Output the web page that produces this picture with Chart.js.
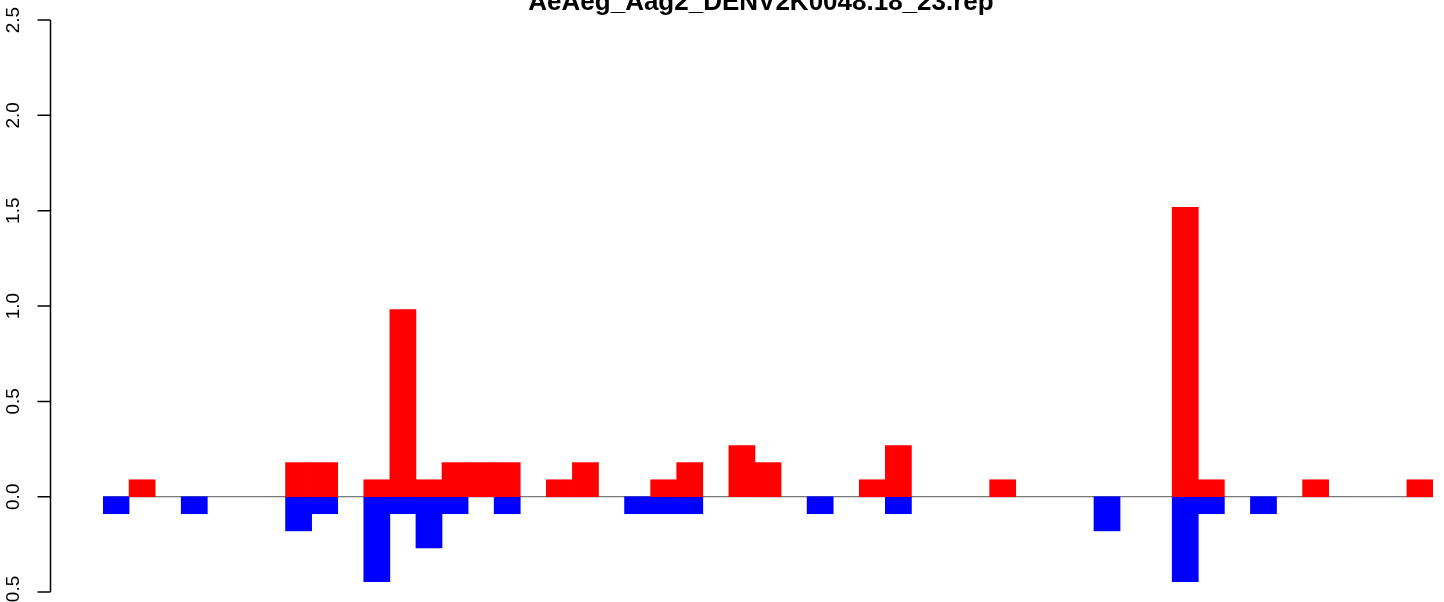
<!DOCTYPE html>
<html lang="en">

<head>
    <meta charset="UTF-8">
    <title>AeAeg_Aag2_DENV2K0048.18_23.rep</title>
    <script src="https://cdn.jsdelivr.net/npm/chart.js"></script>
    <style>
        html, body { margin: 0; padding: 0; background: #fff; }
        #wrap { width: 1444px; height: 602px; }
    </style>
</head>

<body>
    <div id="wrap">
        <canvas id="myChart" width="1444" height="602"></canvas>
    </div>

    <script>
        var chartTitle = 'AeAeg_Aag2_DENV2K0048.18_23.rep';

        // 51 bins (null = empty bin)
        var bins = [];
        for (var i = 1; i <= 51; i++) { bins.push(String(i)); }

        var plusValues = [
            null, 0.089, null, null, null, null, null, 0.179, 0.179, null,
            0.089, 0.982, 0.089, 0.179, 0.179, 0.179, null, 0.089, 0.179, null,
            null, 0.089, 0.179, null, 0.268, 0.179, null, null, null, 0.089,
            0.268, null, null, null, 0.089, null, null, null, null, null,
            null, 1.518, 0.089, null, null, null, 0.089, null, null, null,
            0.089
        ];
        var minusValues = [
            -0.089, null, null, -0.089, null, null, null, -0.179, -0.089, null,
            -0.446, -0.089, -0.268, -0.089, null, -0.089, null, null, null, null,
            -0.089, -0.089, -0.089, null, null, null, null, -0.089, null, null,
            -0.089, null, null, null, null, null, null, null, -0.179, null,
            null, -0.446, -0.089, null, -0.089, null, null, null, null, null,
            null
        ];
        var yTicks = [2.5, 2.0, 1.5, 1.0, 0.5, 0.0, -0.5];

        // R style axis, title and zero line
        var rAxis = {
            id: 'rAxis',
            beforeDatasetsDraw: function (chart) {
                var ctx = chart.ctx;
                var area = chart.chartArea;
                var y0 = chart.scales.y.getPixelForValue(0);
                ctx.save();
                ctx.strokeStyle = '#555555';
                ctx.lineWidth = 1;
                ctx.beginPath();
                ctx.moveTo(area.left, y0);
                ctx.lineTo(area.right, y0);
                ctx.stroke();
                ctx.restore();
            },
            afterDraw: function (chart) {
                var ctx = chart.ctx;
                var ys = chart.scales.y;
                var axisX = 50.5;
                var top = ys.getPixelForValue(yTicks[0]);
                var bottom = ys.getPixelForValue(yTicks[yTicks.length - 1]);
                ctx.save();
                ctx.strokeStyle = '#000';
                ctx.lineWidth = 1.5;
                ctx.beginPath();
                ctx.moveTo(axisX, top);
                ctx.lineTo(axisX, bottom);
                yTicks.forEach(function (t) {
                    var py = ys.getPixelForValue(t);
                    ctx.moveTo(axisX, py);
                    ctx.lineTo(axisX - 13, py);
                });
                ctx.stroke();

                ctx.fillStyle = '#000';
                ctx.font = '19px "Liberation Sans", Arial, sans-serif';
                ctx.textAlign = 'center';
                ctx.textBaseline = 'alphabetic';
                yTicks.forEach(function (t) {
                    var py = ys.getPixelForValue(t);
                    ctx.save();
                    ctx.translate(18.5, py);
                    ctx.rotate(-Math.PI / 2);
                    ctx.fillText(t.toFixed(1), 0, 0);
                    ctx.restore();
                });

                ctx.font = 'bold 26px "Liberation Sans", Arial, sans-serif';
                ctx.fillText(chartTitle, 761, 9.5);
                ctx.restore();
            }
        };

        var ctx01 = document.getElementById('myChart');
        var chart01 = new Chart(ctx01, {
            type: 'bar',
            data: {
                labels: bins,
                datasets: [{
                    label: 'plus',
                    data: plusValues,
                    backgroundColor: '#FF0000',
                    borderWidth: 0,
                    grouped: false,
                    barPercentage: 1,
                    categoryPercentage: 1
                }, {
                    label: 'minus',
                    data: minusValues,
                    backgroundColor: '#0000FF',
                    borderWidth: 0,
                    grouped: false,
                    barPercentage: 1,
                    categoryPercentage: 1
                }]
            },
            options: {
                responsive: false,
                animation: false,
                layout: {
                    padding: { left: 103, right: 11, top: 0, bottom: 0 }
                },
                plugins: {
                    legend: { display: false },
                    tooltip: { enabled: false }
                },
                scales: {
                    x: { display: false, offset: true },
                    y: { display: false, min: -0.552, max: 2.605 }
                }
            },
            plugins: [rAxis]
        });
    </script>
</body>

</html>
